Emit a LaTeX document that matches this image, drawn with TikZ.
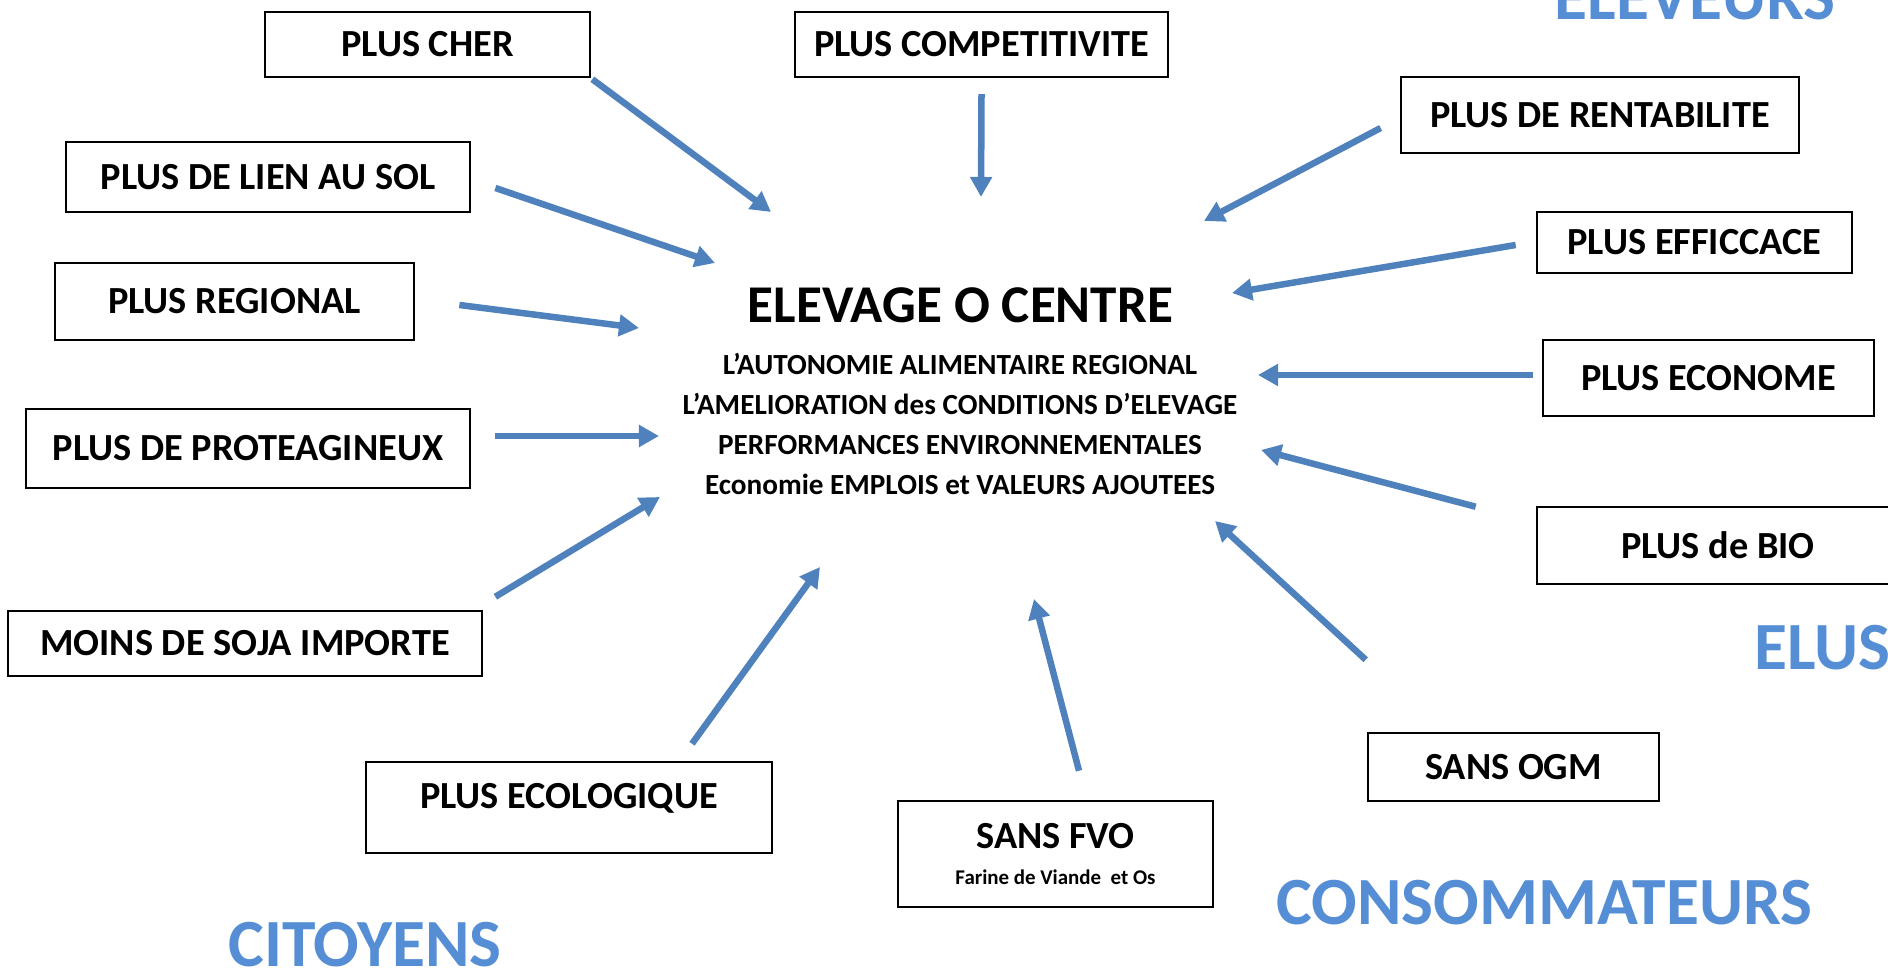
\documentclass[tikz,border=0pt]{standalone}
\usepackage{fontspec}
\setmainfont{Carlito}
\usetikzlibrary{arrows.meta}
\definecolor{bleuFleche}{RGB}{79,129,189}
\definecolor{bleuGroupe}{RGB}{85,142,213}

\begin{document}
\begin{tikzpicture}[
  x=0.01cm, y=-0.01cm,
  boite/.style={draw=black,line width=0.7pt,inner sep=0pt,
    font=\bfseries\fontsize{10.9}{13}\selectfont},
  fleche/.style={line width=1.85pt,draw=bleuFleche,
    -{Triangle[length=2mm,width=2.1mm]}},
  groupe/.style={text=bleuGroupe,anchor=base,inner sep=0pt,
    font=\bfseries\fontsize{19.2}{22}\selectfont},
  titre/.style={anchor=base,inner sep=0pt,font=\bfseries\fontsize{15.1}{18}\selectfont},
  axe/.style={anchor=base,inner sep=0pt,align=center,
    font=\bfseries\fontsize{8.3}{11.38}\selectfont}
]
\useasboundingbox (0,0) rectangle (1888,971);

% ---- centre ----
\node[titre] (titre) at (960.5,323) {ELEVAGE O CENTRE};
% base = derniere ligne
\node[axe] (axes) at (960,495) {L’AUTONOMIE ALIMENTAIRE REGIONAL\\
  L’AMELIORATION des CONDITIONS D’ELEVAGE\\
  PERFORMANCES ENVIRONNEMENTALES\\
  Economie EMPLOIS et VALEURS AJOUTEES};

% ---- boites ----
\node[boite,minimum width=3.25cm,minimum height=0.65cm] (cher) at (427.5,44.5) {PLUS CHER};
\node[boite,minimum width=3.73cm,minimum height=0.65cm] (compet) at (981.5,44.5) {PLUS COMPETITIVITE};
\node[boite,minimum width=3.98cm,minimum height=0.76cm] (rentab) at (1600,115) {PLUS DE RENTABILITE};
\node[boite,minimum width=3.15cm,minimum height=0.61cm] (effic) at (1694.5,242.5) {PLUS EFFICCACE};
\node[boite,minimum width=3.31cm,minimum height=0.76cm] (econome) at (1708.5,378) {PLUS ECONOME};
\node[boite,minimum width=3.62cm,minimum height=0.77cm] (bio) at (1718,545.5) {PLUS de BIO};
\node[boite,minimum width=2.91cm,minimum height=0.68cm] (ogm) at (1513.5,767) {SANS OGM};
\node[boite,minimum width=3.15cm,minimum height=1.06cm,align=center] (fvo) at (1055.5,854)
  {SANS FVO\\[-2.5pt]{\fontsize{5.95}{7}\selectfont Farine de Viande\ \ et Os}};
\node[boite,minimum width=4.06cm,minimum height=0.91cm,text height=0.24cm,text depth=0.21cm]
  (ecolo) at (569,807.5) {PLUS ECOLOGIQUE};
\node[boite,minimum width=4.74cm,minimum height=0.65cm] (soja) at (245,643.5) {MOINS DE SOJA IMPORTE};
\node[boite,minimum width=4.44cm,minimum height=0.79cm] (proteo) at (248,448.5) {PLUS DE PROTEAGINEUX};
\node[boite,minimum width=3.59cm,minimum height=0.77cm] (regional) at (234.5,301.5) {PLUS REGIONAL};
\node[boite,minimum width=4.04cm,minimum height=0.70cm] (lien) at (268,177) {PLUS DE LIEN AU SOL};

% ---- groupes ----
\node[groupe] (eleveurs) at (1695,20) {ELEVEURS};
\node[groupe,anchor=base west] (elus) at (1754,670) {ELUS};
\node[groupe] (consom) at (1544.5,925) {CONSOMMATEURS};
\node[groupe] (citoyens) at (365,967) {CITOYENS};

% ---- pointes des fleches ----
\foreach \n/\x/\y in {cher/771/212, lien/715/263, regional/639/328, proteo/659/436,
    compet/981/197, rentab/1204/221, effic/1232/293, econome/1258/375,
    bio/1261/450, ogm/1215/521, fvo/1034/599, ecolo/820/567, soja/660/497}
  \coordinate (p-\n) at (\x,\y);

% ---- fleches ----
\foreach \n/\a/\dx/\dy in {cher/south east/1/1, lien/east/24/11, regional/east/44/3.5,
    proteo/east/24/-12.5, compet/south/0/16, rentab/west/-19/13, effic/west/-20/2.5,
    econome/west/-9/-3, bio/north west/-60/1, ogm/north west/-1/-72,
    fvo/north/23.5/-29, ecolo/north/123/-17, soja/north east/12/-13}
  \draw[fleche] ([shift={(\dx,\dy)}]\n.\a) -- (p-\n);

\end{tikzpicture}
\end{document}
